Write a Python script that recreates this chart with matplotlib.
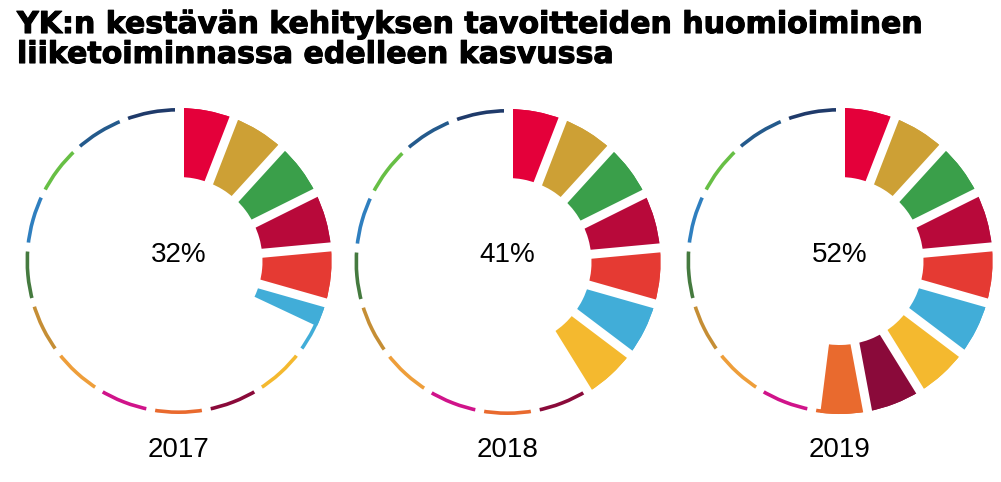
import numpy as np
import matplotlib.pyplot as plt
from matplotlib import patheffects

# ==========================================
# DATA
# ==========================================
years = ['2017', '2018', '2019']
shares = [32, 41, 52]   # % of the 17 SDG goals taken into account

goal_colors = ['#E4003A', '#CDA035', '#3A9F4A', '#B8093A', '#E53A33', '#41ADD8',
               '#F4B92F', '#8A0A3A', '#E96A2E', '#D0138A', '#EE9E3A', '#C58E35',
               '#457A3F', '#2F7FBF', '#67BF45', '#245A8C', '#1F3A6A']

title_lines = ["YK:n kestävän kehityksen tavoitteiden huomioiminen",
               "liiketoiminnassa edelleen kasvussa"]

# ==========================================
# LAYOUT (pixels)
# ==========================================
W, H = 1001, 482
R_PX = 153                      # outer radius of a ring
centers = [(178.5, 261), (507.5, 262), (839.5, 261)]
INNER = 84 / R_PX               # inner radius of the thick wedges
THIN = 3.6 / R_PX               # thickness of the thin outer arcs
GAP_PT = 9 * 72 / 100           # white gap between goals, ~9 px
LIM = 1.1

n_goals = len(goal_colors)

fig = plt.figure(figsize=(W / 100, H / 100), dpi=100)
fig.patch.set_facecolor('white')


def draw_ring(ax, share):
    # thin outer arcs for every goal
    ax.pie([1] * n_goals, colors=goal_colors, radius=1, startangle=90,
           counterclock=False, wedgeprops=dict(width=THIN, linewidth=0))

    # thick wedges for the share achieved
    filled = np.clip(share / 100 * n_goals - np.arange(n_goals), 0, 1)
    sizes = [f for f in filled if f > 0]
    cols = goal_colors[:len(sizes)] + ['none']
    sizes.append(n_goals - sum(sizes))
    ax.pie(sizes, colors=cols, radius=1, startangle=90, counterclock=False,
           wedgeprops=dict(width=1 - INNER, linewidth=0))

    # white gaps between the goals
    for k in range(n_goals):
        a = np.deg2rad(90 - k * 360 / n_goals)
        r0, r1 = INNER - 0.05, 1.05
        ax.plot([r0 * np.cos(a), r1 * np.cos(a)], [r0 * np.sin(a), r1 * np.sin(a)],
                color='white', lw=GAP_PT, solid_capstyle='butt')

    ax.set_xlim(-LIM, LIM)
    ax.set_ylim(-LIM, LIM)
    ax.set_aspect('equal')
    ax.axis('off')


side = 2 * LIM * R_PX
for (cx, cy), year, share in zip(centers, years, shares):
    ax = fig.add_axes([(cx - side / 2) / W, (H - cy - side / 2) / H, side / W, side / H])
    draw_ring(ax, share)
    fig.text(cx / W, 1 - 262 / H, f"{share}%", ha='center', va='baseline',
             fontsize=20, family='Liberation Sans', color='black')
    fig.text(cx / W, 1 - 457 / H, year, ha='center', va='baseline',
             fontsize=20, family='Liberation Sans', color='black')

# title, heavy black
for i, line in enumerate(title_lines):
    fig.text(17 / W, 1 - (33 + 30 * i) / H, line, ha='left', va='baseline',
             fontsize=21.6, fontweight='bold', family='DejaVu Sans', color='black',
             path_effects=[patheffects.withStroke(linewidth=0.8, foreground='black')])

fig.savefig('out.png', dpi=100, facecolor='white')
